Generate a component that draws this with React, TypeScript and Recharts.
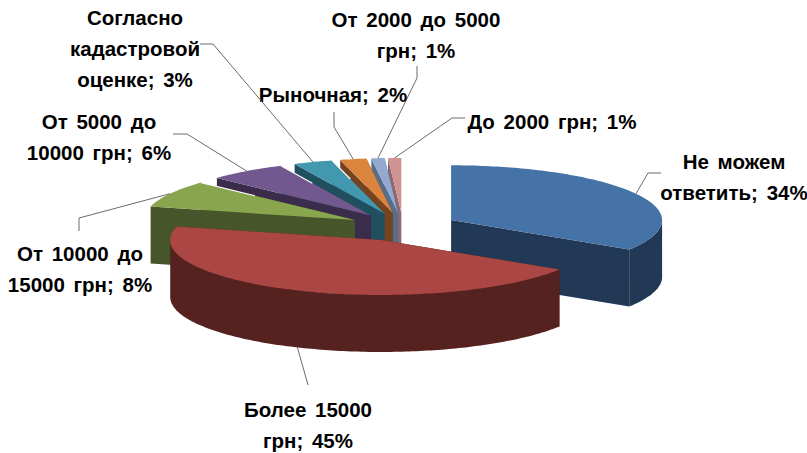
import { PieChart, Pie } from 'recharts';

// Slices in paint order: back ones first, the big front slice last
const categories = [
  'Не можем\nответить',
  'До 2000 грн',
  'От 2000 до 5000\nгрн',
  'Рыночная',
  'Согласно\nкадастровой\nоценке',
  'От 5000 до\n10000 грн',
  'От 10000 до\n15000 грн',
  'Более 15000\nгрн',
];
const values = [34, 1, 1, 2, 3, 6, 8, 45];
const topColors = ['#4572A7', '#D19392', '#93A9CF', '#DB843D', '#4198AF', '#71588F', '#89A54E', '#AA4643'];
const wallColors = ['#213955', '#8A6A72', '#566E8C', '#764320', '#205060', '#3A2D4C', '#46552A', '#562220'];

const labelAnchors = [
  [734, 162],
  [552, 122],
  [416, 20],
  [333, 95],
  [135, 18],
  [99, 122],
  [80, 254],
  [308, 410],
];
const leaderBends = [
  [[648, 173], [661, 173]],
  [[452, 118], [465, 118]],
  [[417, 78], [417, 66]],
  [[334, 127], [334, 112]],
  [[213, 44], [200, 44]],
  [[187, 134], [173, 134]],
  [[79, 218], [79, 231]],
  [[308, 385]],
];

const data = categories.map((name, i) => ({ name, value: values[i], fill: topColors[i] }));

const TILT = 0.26;
const DEPTH = 57;
const EXPLODE = 0.26;
const LINE_GAP = 31;
const RAD = Math.PI / 180;

// Offset of a slice's apex: pulled out along its middle angle, in the flattened plane
const apexOf = (cx: number, cy: number, r: number, start: number, end: number) => {
  const mid = ((start + end) / 2) * RAD;
  return {
    x: cx + EXPLODE * r * Math.cos(mid),
    y: cy - EXPLODE * r * TILT * Math.sin(mid),
  };
};

const rim = (apex: { x: number; y: number }, r: number, deg: number) => ({
  x: apex.x + r * Math.cos(deg * RAD),
  y: apex.y - r * TILT * Math.sin(deg * RAD),
});

const toPath = (pts: { x: number; y: number }[]) =>
  'M' + pts.map((p) => `${p.x.toFixed(1)},${p.y.toFixed(1)}`).join('L') + 'Z';

const down = (p: { x: number; y: number }) => ({ x: p.x, y: p.y + DEPTH });

function Slice3D(props: any) {
  const { cx, cy, outerRadius: r, startAngle, endAngle, index } = props;
  const apex = apexOf(cx, cy, r, startAngle, endAngle);
  const steps: number[] = [];
  for (let a = startAngle; a < endAngle; a += 1) steps.push(a);
  steps.push(endAngle);

  const arc = steps.map((a) => rim(apex, r, a));
  const front = steps.filter((a) => Math.sin(a * RAD) <= 0).map((a) => rim(apex, r, a));
  const first = arc[0];
  const last = arc[arc.length - 1];
  const wall = wallColors[index];
  const glint = values[index] >= 3 && values[index] <= 8;

  return (
    <g>
      <path d={toPath([apex, last, down(last), down(apex)])} fill={wall} />
      <path d={toPath([apex, first, down(first), down(apex)])} fill={wall} />
      {front.length > 1 && (
        <path d={toPath([...front, ...front.map(down).reverse()])} fill={wall} />
      )}
      <path d={toPath([apex, ...arc])} fill={topColors[index]} />
      {glint && (
        <line
          x1={first.x}
          y1={first.y}
          x2={first.x + (apex.x - first.x) * 0.35}
          y2={first.y + (apex.y - first.y) * 0.35}
          stroke="#ffffff"
          strokeWidth={1.2}
        />
      )}
    </g>
  );
}

function Leader(props: any) {
  const { cx, cy, outerRadius: r, startAngle, endAngle, index } = props;
  const apex = apexOf(cx, cy, r, startAngle, endAngle);
  const mid = (startAngle + endAngle) / 2;
  let from = rim(apex, r, mid);
  if (Math.sin(mid * RAD) < 0) from = down(from);
  const pts = [[from.x, from.y], ...leaderBends[index]];
  return <polyline points={pts.join(' ')} fill="none" stroke="#6b6b6b" strokeWidth={1} />;
}

function SliceLabel(props: any) {
  const { index } = props;
  const [x, y] = labelAnchors[index];
  const lines = `${categories[index]}; ${values[index]}%`.split('\n');
  return (
    <text
      textAnchor="middle"
      fontFamily="'Liberation Sans', sans-serif"
      fontWeight={700}
      fontSize={20.5}
      wordSpacing={3}
      fill="#000000"
    >
      {lines.map((line, i) => (
        <tspan key={i} x={x} y={y + i * LINE_GAP} dy="0.35em">
          {line}
        </tspan>
      ))}
    </text>
  );
}

export default function App() {
  return (
    <div style={{ position: 'absolute', left: 0, top: 0, width: 807, height: 453 }}>
      <PieChart width={807} height={453} margin={{ top: 0, right: 0, bottom: 0, left: 0 }}>
        <Pie
          data={data}
          dataKey="value"
          nameKey="name"
          cx={403}
          cy={227}
          outerRadius={211}
          innerRadius={0}
          startAngle={90 - values[0] * 3.6}
          endAngle={90 - values[0] * 3.6 + 360}
          stroke="none"
          isAnimationActive={false}
          shape={Slice3D}
          label={SliceLabel}
          labelLine={Leader}
        />
      </PieChart>
    </div>
  );
}
